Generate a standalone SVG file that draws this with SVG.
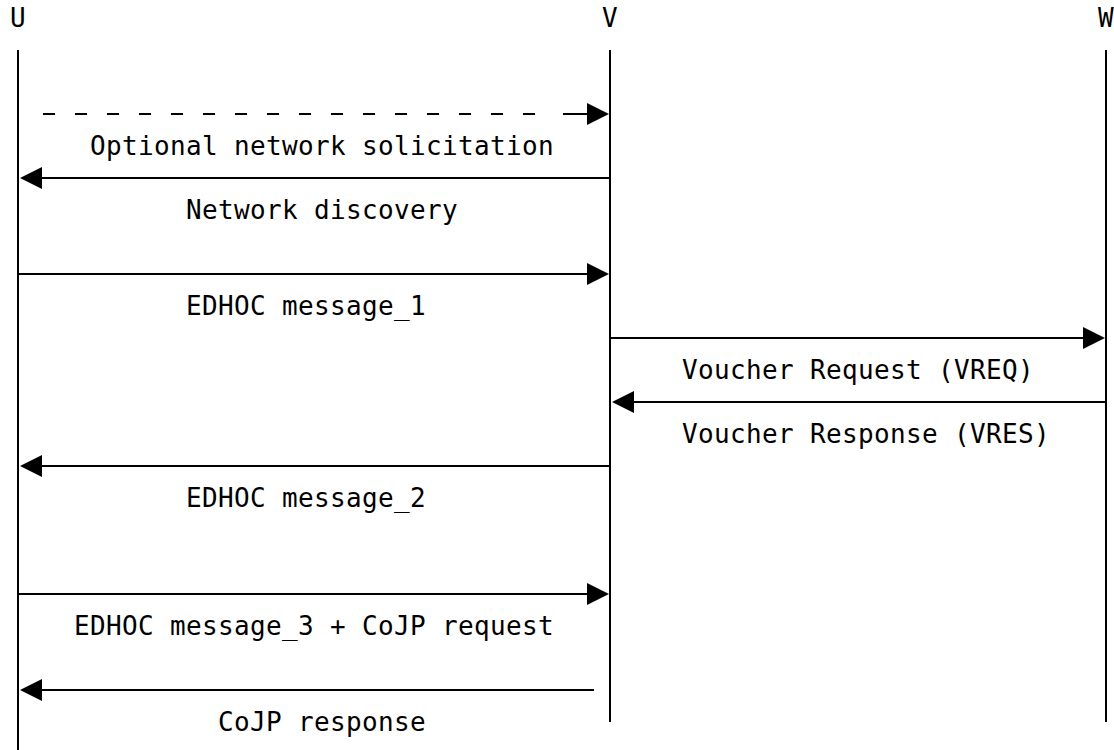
<svg xmlns="http://www.w3.org/2000/svg" width="1114" height="750" viewBox="0 0 1114 750">
<style>
text{font-family:"DejaVu Sans Mono","Liberation Mono",monospace;font-size:26px;letter-spacing:0.35px;text-anchor:middle;fill:#000;white-space:pre}
.life,.msg{stroke:#000;stroke-width:2;fill:none}
.dash{stroke-dasharray:12 20}
</style>
<defs>
<marker id="ah" markerUnits="userSpaceOnUse" markerWidth="24" markerHeight="24" refX="20" refY="11" orient="auto">
<path d="M0,0 L22,11 L0,22 z" fill="#000"/>
</marker>
</defs>
<rect width="1114" height="750" fill="#fff"/>
<g id="node-U">
<text x="18" y="27">U</text>
<line class="life" x1="18" y1="50" x2="18" y2="750"/>
</g>
<g id="node-V">
<text x="610" y="27">V</text>
<line class="life" x1="610" y1="50" x2="610" y2="722"/>
</g>
<g id="node-W">
<text x="1106" y="27">W</text>
<line class="life" x1="1106" y1="50" x2="1106" y2="722"/>
</g>
<g id="connectors">
<line class="msg dash" x1="43" y1="114" x2="535" y2="114"/>
<line class="msg" x1="563" y1="114" x2="607" y2="114" marker-end="url(#ah)"/>
<text x="322" y="155" xml:space="preserve">Optional network solicitation</text>
<line class="msg" x1="610" y1="178" x2="22" y2="178" marker-end="url(#ah)"/>
<text x="322" y="219" xml:space="preserve">Network discovery</text>
<line class="msg" x1="18" y1="274" x2="607" y2="274" marker-end="url(#ah)"/>
<text x="306" y="315" xml:space="preserve">EDHOC message_1</text>
<line class="msg" x1="610" y1="338" x2="1103" y2="338" marker-end="url(#ah)"/>
<text x="858" y="379" xml:space="preserve">Voucher Request (VREQ)</text>
<line class="msg" x1="1106" y1="402" x2="614" y2="402" marker-end="url(#ah)"/>
<text x="866" y="443" xml:space="preserve">Voucher Response (VRES)</text>
<line class="msg" x1="610" y1="466" x2="22" y2="466" marker-end="url(#ah)"/>
<text x="306" y="507" xml:space="preserve">EDHOC message_2</text>
<line class="msg" x1="18" y1="594" x2="607" y2="594" marker-end="url(#ah)"/>
<text x="314" y="635" xml:space="preserve">EDHOC message_3 + CoJP request</text>
<line class="msg" x1="594" y1="690" x2="22" y2="690" marker-end="url(#ah)"/>
<text x="322" y="731" xml:space="preserve">CoJP response</text>
</g>
</svg>
